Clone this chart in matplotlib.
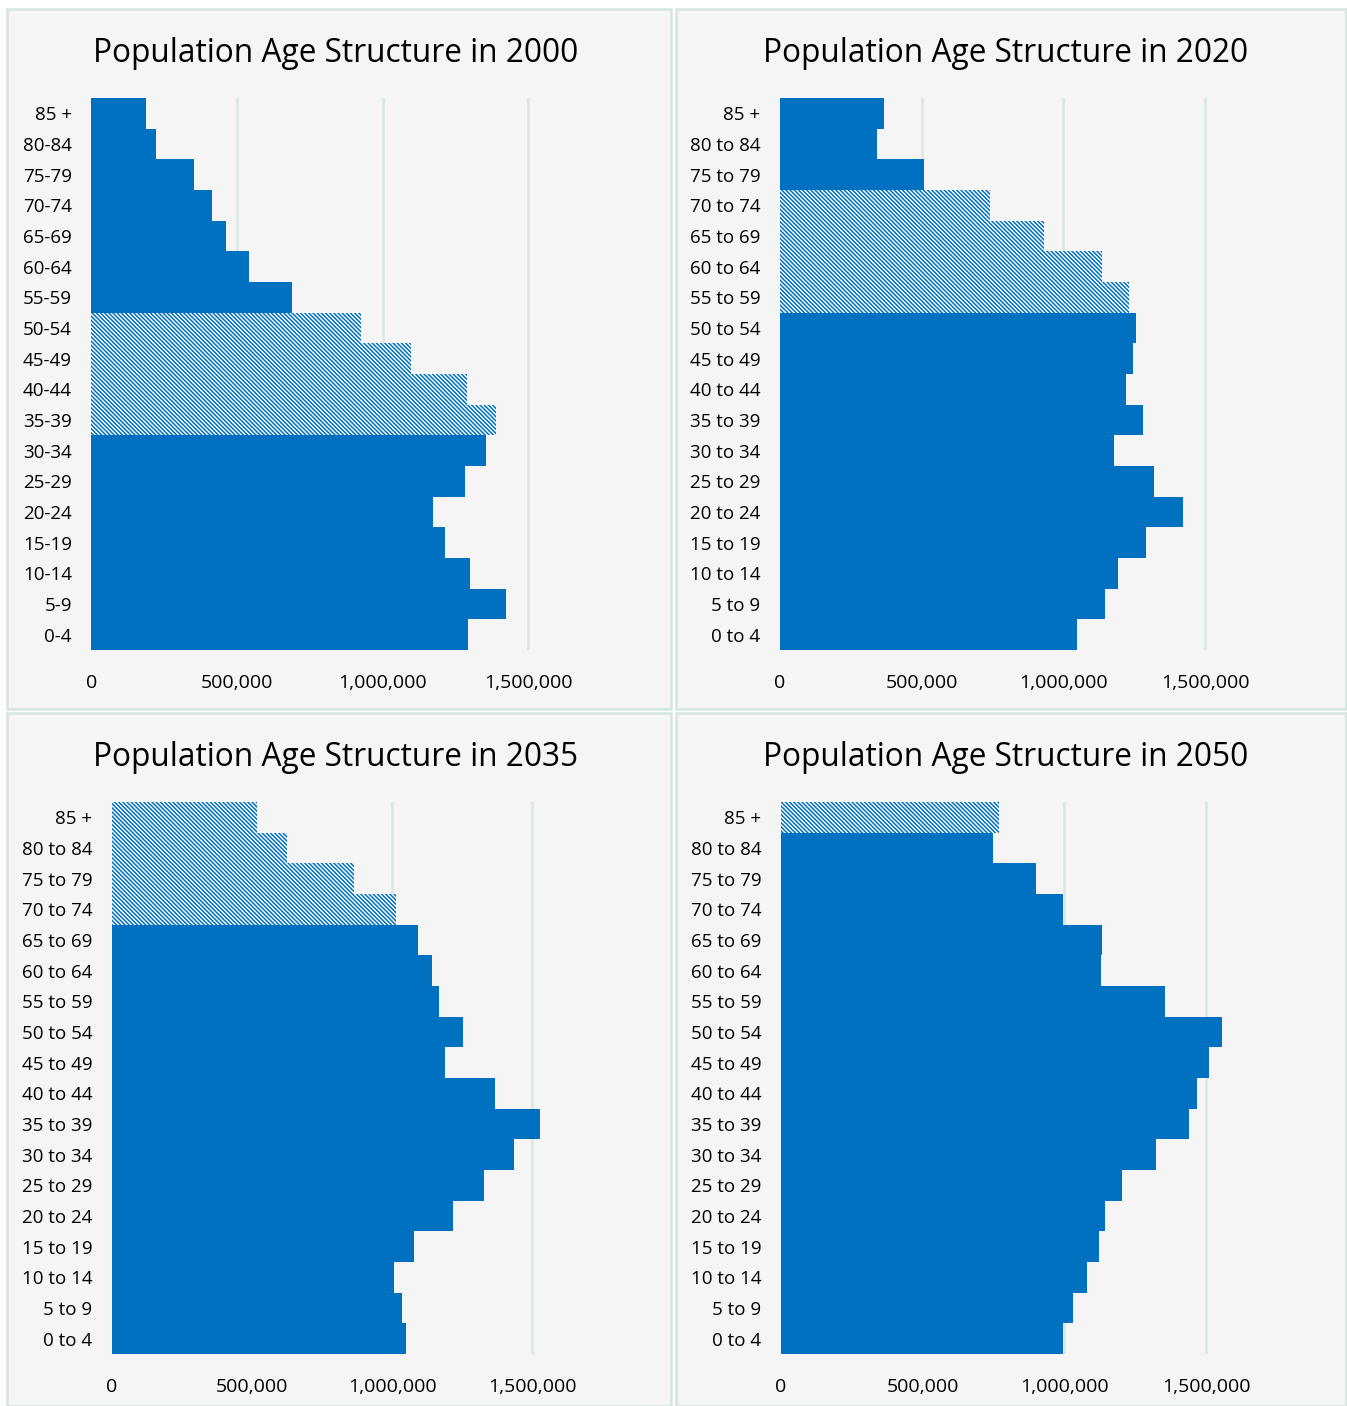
import matplotlib
matplotlib.use("Agg")
import matplotlib.pyplot as plt
from matplotlib.patches import Rectangle
from matplotlib.ticker import FuncFormatter

# ---- data (age groups from youngest to oldest) ----
labels_2000 = ["0-4", "5-9", "10-14", "15-19", "20-24", "25-29", "30-34", "35-39",
               "40-44", "45-49", "50-54", "55-59", "60-64", "65-69", "70-74",
               "75-79", "80-84", "85 +"]
labels_later = ["0 to 4", "5 to 9", "10 to 14", "15 to 19", "20 to 24", "25 to 29",
                "30 to 34", "35 to 39", "40 to 44", "45 to 49", "50 to 54", "55 to 59",
                "60 to 64", "65 to 69", "70 to 74", "75 to 79", "80 to 84", "85 +"]

pop_2000 = [1294000, 1422000, 1301000, 1214000, 1173000, 1282000, 1354000, 1388000,
            1289000, 1096000, 925000, 690000, 541000, 462000, 415000, 351000,
            222000, 188000]
pop_2020 = [1047000, 1148000, 1192000, 1290000, 1422000, 1321000, 1180000, 1282000,
            1222000, 1246000, 1257000, 1230000, 1137000, 933000, 742000, 508000,
            343000, 368000]
pop_2035 = [1051000, 1036000, 1008000, 1080000, 1217000, 1329000, 1435000, 1530000,
            1368000, 1190000, 1254000, 1169000, 1142000, 1094000, 1014000, 865000,
            624000, 517000]
pop_2050 = [996000, 1031000, 1079000, 1121000, 1144000, 1202000, 1324000, 1441000,
            1469000, 1511000, 1555000, 1356000, 1129000, 1134000, 996000, 900000,
            747000, 770000]

# baby-boom cohort, highlighted with a pattern in each year
boomers_2000 = ["35-39", "40-44", "45-49", "50-54"]
boomers_2020 = ["55 to 59", "60 to 64", "65 to 69", "70 to 74"]
boomers_2035 = ["70 to 74", "75 to 79", "80 to 84", "85 +"]
boomers_2050 = ["85 +"]

years = ["2000", "2020", "2035", "2050"]
x_ticks = [0, 500000, 1000000, 1500000]

# ---- styling ----
plt.rcParams["font.family"] = ["Open Sans", "DejaVu Sans"]
plt.rcParams["hatch.linewidth"] = 1.1
BLUE = "#0070c0"
GRID = "#d9e7e2"
PANEL_BG = "#f5f5f5"
PANEL_EDGE = "#d5e5df"

W, H = 1347, 1406
fig = plt.figure(figsize=(W / 100, H / 100), dpi=100)
fig.patch.set_facecolor("white")


def fx(px):
    return px / W


def fy(py):
    return 1 - py / H


# panel frames (x0, y0, x1, y1) in pixels from top-left
panels = [(7, 9, 671, 709), (676, 9, 1346, 709),
          (7, 713, 671, 1406), (676, 713, 1346, 1406)]
for x0, y0, x1, y1 in panels:
    fig.patches.append(Rectangle((fx(x0), fy(y1)), fx(x1 - x0), (y1 - y0) / H,
                                 transform=fig.transFigure, facecolor=PANEL_BG,
                                 edgecolor=PANEL_EDGE, linewidth=1.8, zorder=-5))

# axes boxes: (left px, right px, top px, bottom px)
XMAX = 1850000
axes_px = [(91.3, 91.3 + 1.85 * 291.4, 98, 650),
           (780, 780 + 1.85 * 283.4, 98, 650),
           (112, 112 + 1.85 * 280, 802, 1354),
           (781, 781 + 1.85 * 283.4, 802, 1354)]
title_pos = [(336, 53), (1006, 54), (336, 757), (1006, 757)]

series = [(labels_2000, pop_2000, boomers_2000),
          (labels_later, pop_2020, boomers_2020),
          (labels_later, pop_2035, boomers_2035),
          (labels_later, pop_2050, boomers_2050)]

for (l, r, t, b), (tx, ty), year, (labels, values, boom) in zip(axes_px, title_pos, years, series):
    ax = fig.add_axes([fx(l), fy(b), fx(r - l), (b - t) / H])
    ax.set_zorder(1)
    ax.set_facecolor("none")
    ypos = list(range(len(labels)))
    solid = [v if lab not in boom else 0 for lab, v in zip(labels, values)]
    hatched = [v if lab in boom else 0 for lab, v in zip(labels, values)]
    ax.barh(ypos, solid, height=1.0, color=BLUE, linewidth=0, zorder=2)
    ax.barh(ypos, hatched, height=1.0, facecolor="white", edgecolor=BLUE,
            hatch="\\" * 8, linewidth=0, zorder=2)
    ax.set_xlim(0, XMAX)
    ax.set_ylim(-0.5, len(labels) - 0.5)
    ax.set_xticks(x_ticks)
    ax.xaxis.set_major_formatter(FuncFormatter(lambda v, p: f"{int(v):,}"))
    ax.set_yticks(ypos)
    ax.set_yticklabels(labels)
    ax.tick_params(axis="both", length=0, colors="#000000")
    ax.tick_params(axis="x", pad=17.5, labelsize=14)
    ax.tick_params(axis="y", pad=14, labelsize=13.5)
    ax.grid(axis="x", color=GRID, linewidth=1.8, zorder=1)
    ax.set_axisbelow(True)
    for s in ax.spines.values():
        s.set_visible(False)
    fig.text(fx(tx), fy(ty), f"Population Age Structure in {year}", ha="center",
             va="center", fontsize=22.8, color="#000000")

fig.savefig("out.png", dpi=100)
